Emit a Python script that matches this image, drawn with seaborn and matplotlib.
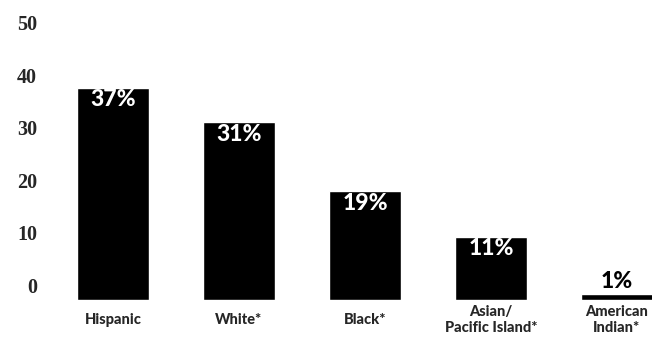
import matplotlib
matplotlib.use("Agg")
import matplotlib.pyplot as plt
import seaborn as sns
import pandas as pd

# ---- data ----
categories = ["Hispanic", "White*", "Black*", "Asian/\nPacific Island*", "American\nIndian*"]
values = [37, 31, 19, 11, 1]
value_labels = ["37%", "31%", "19%", "11%", "1%"]
ytick_labels = ["0", "10", "20", "30", "40", "50"]

df = pd.DataFrame({"group": categories, "pct": values})

sns.set_style("white")
plt.rcParams["font.family"] = ["Lato", "DejaVu Sans"]

W, H = 652, 354
fig = plt.figure(figsize=(W / 100, H / 100), dpi=100)
ax = fig.add_axes([50 / W, 54 / H, 602 / W, 286.5 / H])

sns.barplot(data=df, x="group", y="pct", color="black", saturation=1,
            width=0.575, ax=ax)

ax.set_xlim(-0.5, -0.5 + 602 / 126)
ax.set_ylim(0, 50)
for s in ax.spines.values():
    s.set_visible(False)
ax.set_xlabel("")
ax.set_ylabel("")

# y tick labels (offset as in the printed original)
base, step = 2.6, 9.15
ax.set_yticks([base + step * i for i in range(len(ytick_labels))])
ax.set_yticklabels(ytick_labels, fontfamily=["Liberation Serif", "DejaVu Serif"],
                   fontweight="bold", fontsize=14.5)
ax.tick_params(axis="y", length=0, pad=9.4)

ax.set_xticks(range(len(categories)))
ax.set_xticklabels(categories, fontweight="black", fontsize=10.5,
                   va="center", linespacing=1.25)
ax.tick_params(axis="x", length=0, pad=14.4)

# value labels
for i, (v, lab) in enumerate(zip(values, value_labels)):
    if v >= 5:
        ax.annotate(lab, (i, v), xytext=(0, -1.0), textcoords="offset points",
                    ha="center", va="top", color="white", fontweight="black",
                    fontsize=16.5)
    else:
        ax.annotate(lab, (i, v), xytext=(0, 1.5), textcoords="offset points",
                    ha="center", va="bottom", color="black", fontweight="black",
                    fontsize=16.5)

fig.savefig("out.png", dpi=100, facecolor="white")
